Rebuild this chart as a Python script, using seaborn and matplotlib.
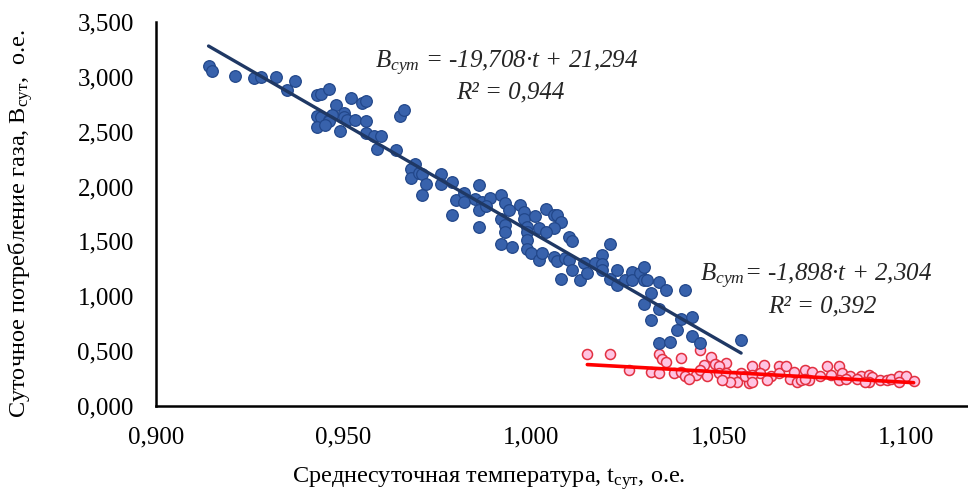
import matplotlib
matplotlib.use("Agg")
import matplotlib.pyplot as plt
import numpy as np
import pandas as pd
import seaborn as sns

# точки, где потребление высокое (синие)
blue_t = [0.914, 0.915, 0.921, 0.926, 0.928, 0.932, 0.937, 0.935, 0.943, 0.944,
          0.946, 0.952, 0.955, 0.956, 0.948, 0.943, 0.944, 0.946, 0.947, 0.946,
          0.950, 0.950, 0.951, 0.953, 0.956, 0.943, 0.945, 0.949, 0.956, 0.958,
          0.960, 0.959, 0.964, 0.965, 0.966, 0.969, 0.968, 0.968, 0.970, 0.971,
          0.972, 0.971,
          0.976, 0.976, 0.979, 0.980, 0.979, 0.982, 0.982, 0.986, 0.985, 0.987,
          0.986, 0.989, 0.992, 0.988, 0.986, 0.993, 0.994, 0.992, 0.993, 0.993,
          0.992, 0.995, 0.997, 0.998, 0.998, 0.999, 0.999, 0.999, 0.999, 1.000,
          1.002, 1.001, 1.002, 1.004, 1.006, 1.007, 1.008, 1.006, 1.004, 1.003,
          1.006, 1.007, 1.009, 1.010, 1.011, 1.010, 1.011, 1.014, 1.008, 1.013,
          1.015,
          1.021, 1.019, 1.017, 1.019, 1.019, 1.021, 1.023, 1.023, 1.025, 1.027,
          1.027, 1.029, 1.030, 1.030, 1.031, 1.034, 1.036, 1.032, 1.030, 1.034,
          1.032, 1.041, 1.040, 1.043, 1.039, 1.043, 1.034, 1.037, 1.045, 1.056]
blue_b = [3.10, 3.05, 3.01, 2.99, 3.00, 3.00, 2.96, 2.88, 2.83, 2.84,
          2.89, 2.81, 2.76, 2.78, 2.74, 2.64, 2.63, 2.61, 2.65, 2.60,
          2.67, 2.63, 2.61, 2.61, 2.60, 2.54, 2.56, 2.51, 2.49, 2.46,
          2.46, 2.34, 2.33, 2.64, 2.70, 2.21, 2.16, 2.08, 2.12, 2.11,
          2.02, 1.92,
          2.11, 2.02, 2.04, 1.88, 1.74, 1.94, 1.86, 2.01, 1.89, 1.86,
          1.79, 1.90, 1.92, 1.82, 1.63, 1.85, 1.79, 1.70, 1.65, 1.59,
          1.48, 1.45, 1.83, 1.77, 1.70, 1.63, 1.59, 1.51, 1.43, 1.39,
          1.33, 1.73, 1.62, 1.80, 1.74, 1.74, 1.68, 1.62, 1.59, 1.39,
          1.36, 1.32, 1.35, 1.54, 1.50, 1.33, 1.24, 1.30, 1.16, 1.15,
          1.21,
          1.48, 1.38, 1.30, 1.29, 1.24, 1.16, 1.24, 1.10, 1.15, 1.22,
          1.15, 1.21, 1.27, 1.15, 1.15, 1.13, 1.06, 1.03, 0.93, 0.88,
          0.78, 1.06, 0.79, 0.81, 0.69, 0.64, 0.57, 0.58, 0.57, 0.60]

# точки летнего периода (розовые)
red_t = [1.015, 1.021, 1.026, 1.034, 1.035, 1.036, 1.040, 1.045, 1.048, 1.049,
         1.046, 1.052, 1.050, 1.032, 1.034, 1.038, 1.040, 1.041, 1.044, 1.045,
         1.047, 1.050, 1.052, 1.054, 1.056, 1.055, 1.058, 1.059, 1.062, 1.061,
         1.064, 1.066, 1.066, 1.068, 1.069, 1.070, 1.071, 1.057, 1.059, 1.053,
         1.051,
         1.073, 1.075, 1.079, 1.082, 1.080, 1.077, 1.083, 1.085, 1.088, 1.090,
         1.091, 1.093, 1.095, 1.096, 1.098, 1.100, 1.102, 1.072, 1.074, 1.082,
         1.090, 1.098, 1.073, 1.084, 1.087, 1.089, 1.059, 1.063, 1.042]
red_b = [0.47, 0.47, 0.33, 0.47, 0.43, 0.40, 0.44, 0.51, 0.45, 0.38,
         0.37, 0.39, 0.36, 0.31, 0.30, 0.30, 0.31, 0.27, 0.28, 0.33,
         0.27, 0.30, 0.30, 0.27, 0.30, 0.22, 0.21, 0.36, 0.37, 0.30,
         0.27, 0.36, 0.30, 0.36, 0.25, 0.31, 0.22, 0.27, 0.28, 0.22,
         0.24,
         0.33, 0.31, 0.36, 0.36, 0.28, 0.27, 0.30, 0.27, 0.27, 0.28,
         0.26, 0.24, 0.24, 0.25, 0.27, 0.27, 0.23, 0.24, 0.24, 0.24,
         0.22, 0.22, 0.25, 0.25, 0.25, 0.22, 0.22, 0.24, 0.25]

# коэффициенты линий тренда (из подписей на графике)
blue_fit = (-19.708, 21.294)
red_fit = (-1.898, 2.304)
blue_eq = "$\\mathit{B}_{\\mathit{сут}}$ = -19,708·t + 21,294"
blue_r2 = "R² = 0,944"
red_eq = "$\\mathit{B}_{\\mathit{сут}}$= -1,898·t + 2,304"
red_r2 = "R² = 0,392"

x_ticks = [0.900, 0.950, 1.000, 1.050, 1.100]
y_ticks = [0.0, 0.5, 1.0, 1.5, 2.0, 2.5, 3.0, 3.5]

sns.set_theme(style="white")
plt.rcParams['font.family'] = ['Liberation Serif', 'DejaVu Serif']
plt.rcParams['mathtext.fontset'] = 'custom'
plt.rcParams['mathtext.rm'] = 'Liberation Serif'
plt.rcParams['mathtext.it'] = 'Liberation Serif:italic'

df_blue = pd.DataFrame({'t': blue_t, 'b': blue_b})
df_red = pd.DataFrame({'t': red_t, 'b': red_b})

fig = plt.figure(figsize=(9.68, 4.95), dpi=100)
ax = fig.add_axes([0.1612, 0.1798, 0.8388, 0.7758])

sns.scatterplot(data=df_red, x='t', y='b', ax=ax, s=52, color='#FFC4E2',
                edgecolor='#E23040', linewidth=1.1, zorder=2)
tr = np.array([df_red.t.min(), df_red.t.max()])
sns.lineplot(x=tr, y=red_fit[0] * tr + red_fit[1], ax=ax, color='#FF0000',
             linewidth=2.6, zorder=3)

sns.scatterplot(data=df_blue, x='t', y='b', ax=ax, s=70, color='#3862AC',
                edgecolor='#22478A', linewidth=0.9, zorder=4)
tb = np.array([df_blue.t.min(), df_blue.t.max()])
sns.lineplot(x=tb, y=blue_fit[0] * tb + blue_fit[1], ax=ax, color='#1F3864',
             linewidth=2.4, zorder=5)

ax.set_xlim(0.9, 1.1165)
ax.set_ylim(0, 3.5)
ax.set_xticks(x_ticks)
ax.set_yticks(y_ticks)
ax.set_xticklabels([f"{v:.3f}".replace('.', ',') for v in x_ticks])
ax.set_yticklabels([f"{v:.3f}".replace('.', ',') for v in y_ticks])
ax.tick_params(axis='both', labelsize=18, colors='black', direction='out',
               length=6, width=1.5)
ax.tick_params(axis='y', pad=10)
ax.tick_params(axis='x', pad=9)
sns.despine(ax=ax)
for side in ['left', 'bottom']:
    ax.spines[side].set_color('black')
    ax.spines[side].set_linewidth(1.8)

ax.set_xlabel("Среднесуточная температура, $\\mathrm{t}_{\\mathrm{сут}}$, о.е.",
              fontsize=17.5, color='black')
ax.set_ylabel("Суточное потребление газа, $\\mathrm{B}_{\\mathrm{сут}}$,  о.е.",
              fontsize=17.5, color='black')
ax.xaxis.set_label_coords(0.41, -0.155)
ax.yaxis.set_label_coords(-0.149, 0.475)

txt = dict(fontsize=18, style='italic', color='#262626', ha='center', va='center')
ax.text(0.9936, 3.12, blue_eq, **txt)
ax.text(0.9944, 2.86, blue_r2, **txt)
ax.text(1.076, 1.18, red_eq, **txt)
ax.text(1.0776, 0.91, red_r2, **txt)

fig.savefig("out.png", dpi=100)
